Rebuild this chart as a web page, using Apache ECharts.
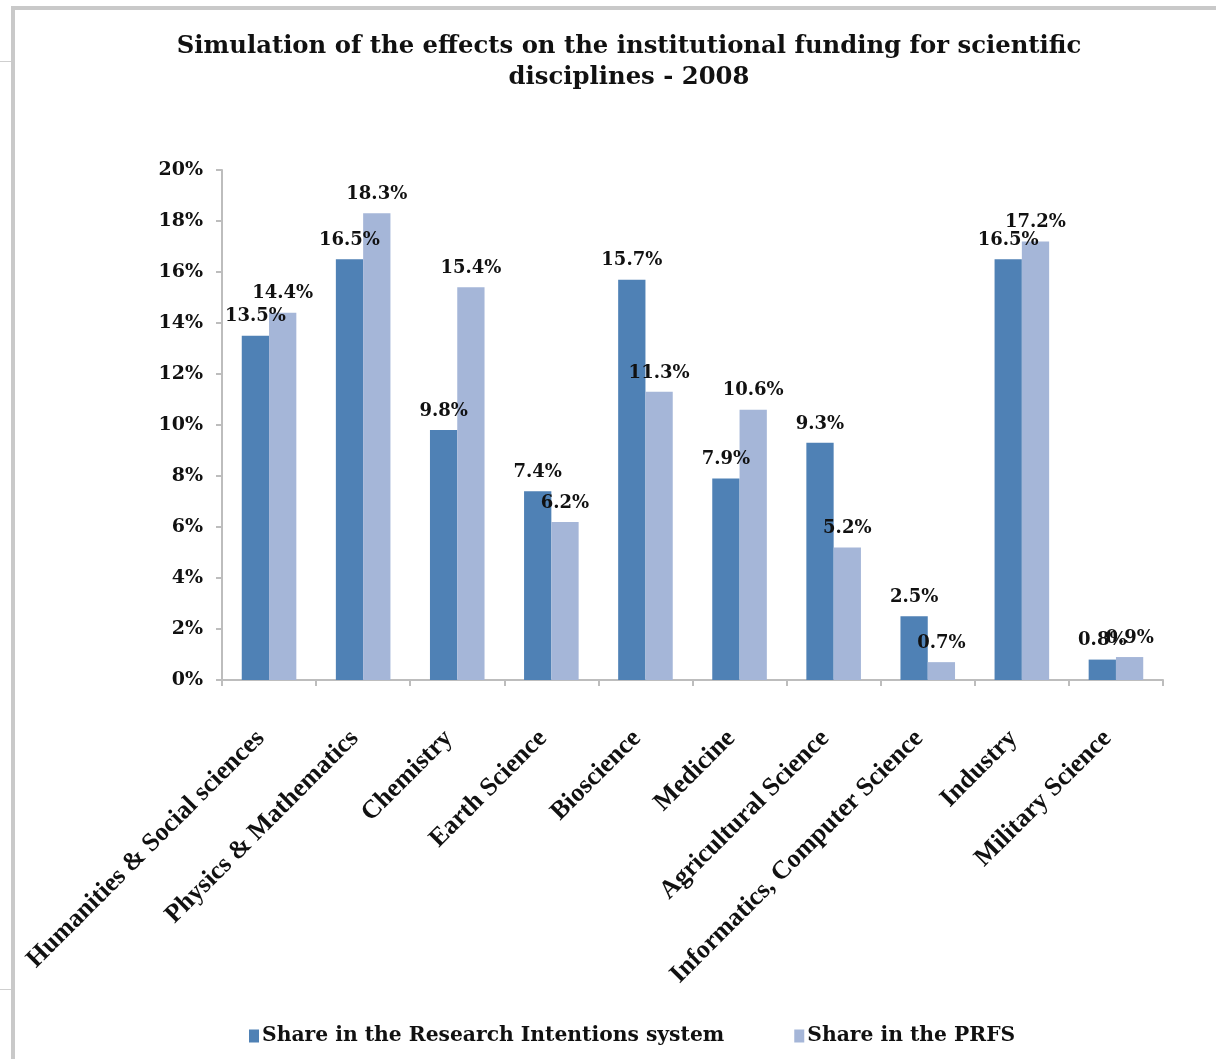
<!DOCTYPE html>
<html>
<head>
<meta charset="utf-8">
<script src="https://cdn.jsdelivr.net/npm/echarts@6/dist/echarts.min.js"></script>
<style>
  html, body { margin: 0; padding: 0; background: #fff; }
  #chart { width: 1216px; height: 1059px; }
</style>
</head>
<body>
<div id="chart"></div>
<script>
// Disciplines on the category axis
const disciplines = [
  'Humanities & Social sciences',
  'Physics & Mathematics',
  'Chemistry',
  'Earth Science',
  'Bioscience',
  'Medicine',
  'Agricultural Science',
  'Informatics, Computer Science',
  'Industry',
  'Military Science'
];

// Shares of institutional funding (percent)
const researchIntentionsShare = [13.5, 16.5, 9.8, 7.4, 15.7, 7.9, 9.3, 2.5, 16.5, 0.8];
const prfsShare = [14.4, 18.3, 15.4, 6.2, 11.3, 10.6, 5.2, 0.7, 17.2, 0.9];

const seriesNames = ['Share in the Research Intentions system', 'Share in the PRFS'];

const serif = '"DejaVu Serif", "Liberation Serif", serif';
const timesLike = '"Liberation Serif", "DejaVu Serif", serif';

const labelStyle = {
  show: true,
  position: 'top',
  distance: 10,
  fontFamily: serif,
  fontWeight: 'bold',
  fontSize: 18,
  color: '#111',
  formatter: p => p.value.toFixed(1) + '%'
};

const chart = echarts.init(document.getElementById('chart'), null, { renderer: 'canvas' });

chart.setOption({
  backgroundColor: '#ffffff',
  animation: false,
  title: {
    text: 'Simulation of the effects on the institutional funding for scientific\ndisciplines - 2008',
    left: 624,
    top: 26,
    textAlign: 'center',
    textStyle: {
      fontFamily: serif,
      fontWeight: 'bold',
      fontSize: 24.3,
      lineHeight: 31,
      color: '#111'
    }
  },
  legend: {
    bottom: 8,
    left: 244,
    itemWidth: 10,
    itemHeight: 13,
    itemGap: 70,
    icon: 'rect',
    textStyle: {
      fontFamily: serif,
      fontWeight: 'bold',
      fontSize: 20.3,
      color: '#111',
      padding: [0, 0, 0, -2]
    },
    data: seriesNames
  },
  grid: {
    left: 222,
    right: 53,
    top: 170,
    bottom: 379,
    containLabel: false
  },
  xAxis: {
    type: 'category',
    data: disciplines,
    axisLine: { lineStyle: { color: '#BDBDBD', width: 2 } },
    axisTick: { show: true, length: 6, lineStyle: { color: '#BDBDBD', width: 2 } },
    axisLabel: {
      interval: 0,
      rotate: 45,
      margin: 46,
      fontFamily: timesLike,
      fontWeight: 'bold',
      fontSize: 26,
      color: '#111',
      padding: [0, 12, 0, 0]
    }
  },
  yAxis: {
    type: 'value',
    min: 0,
    max: 20,
    interval: 2,
    axisLine: { show: true, lineStyle: { color: '#BDBDBD', width: 2 } },
    axisTick: { show: true, length: 6, lineStyle: { color: '#BDBDBD', width: 2 } },
    splitLine: { show: false },
    axisLabel: {
      margin: 19,
      fontFamily: serif,
      fontWeight: 'bold',
      fontSize: 19,
      color: '#111',
      formatter: v => v + '%'
    }
  },
  series: [
    {
      name: seriesNames[0],
      type: 'bar',
      data: researchIntentionsShare,
      barGap: '0%',
      barCategoryGap: '42%',
      itemStyle: { color: '#4F81B5' },
      label: labelStyle
    },
    {
      name: seriesNames[1],
      type: 'bar',
      data: prfsShare,
      barGap: '0%',
      barCategoryGap: '42%',
      itemStyle: { color: '#A5B6D8' },
      label: labelStyle
    }
  ],
  graphic: [
    // panel frame: top and left edges
    { type: 'rect', shape: { x: 11, y: 6, width: 1205, height: 4 }, style: { fill: '#C9C9C9' }, silent: true },
    { type: 'rect', shape: { x: 11, y: 6, width: 4, height: 1053 }, style: { fill: '#C9C9C9' }, silent: true },
    // short rules outside the panel
    { type: 'line', shape: { x1: 0, y1: 61.5, x2: 11, y2: 61.5 }, style: { stroke: '#CFCFCF', lineWidth: 1 }, silent: true },
    { type: 'line', shape: { x1: 0, y1: 989.5, x2: 11, y2: 989.5 }, style: { stroke: '#CFCFCF', lineWidth: 1 }, silent: true }
  ]
});
</script>
</body>
</html>
